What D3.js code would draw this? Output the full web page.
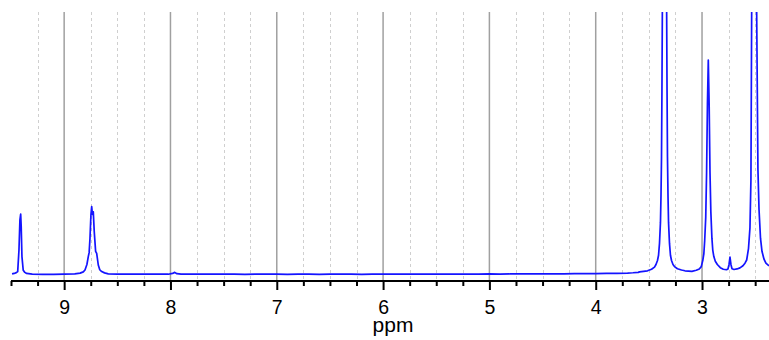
<!DOCTYPE html>
<html>
<head>
<meta charset="utf-8">
<script src="https://cdn.jsdelivr.net/npm/d3@7/dist/d3.min.js"></script>
<style>
  html, body { margin: 0; padding: 0; background: #fff; }
  svg { display: block; }
  text { font-family: "Liberation Sans", Arial, Helvetica, sans-serif; fill: #000; }
</style>
</head>
<body>
<div id="chart"></div>
<script>
// 1H NMR spectrum: chemical shift (ppm) and relative intensity
const shift = [
  9.490, 9.470, 9.450, 9.437, 9.425, 9.416, 9.409, 9.404, 9.397, 9.385, 9.370, 9.353,
  9.300, 9.200, 9.100, 9.000, 8.900, 8.850, 8.820, 8.804, 8.786, 8.773, 8.765, 8.757,
  8.748, 8.741, 8.734, 8.726, 8.717, 8.704, 8.694, 8.679, 8.665, 8.647, 8.620, 8.585,
  8.500, 8.400, 8.300, 8.200, 8.100, 8.020, 7.980, 7.960, 7.940, 7.900, 7.800, 7.700,
  7.600, 7.500, 7.400, 7.300, 7.200, 7.100, 7.000, 6.900, 6.800, 6.700, 6.600, 6.500,
  6.400, 6.300, 6.200, 6.100, 6.000, 5.900, 5.800, 5.700, 5.600, 5.500, 5.400, 5.300,
  5.200, 5.100, 5.000, 4.900, 4.800, 4.700, 4.600, 4.500, 4.400, 4.300, 4.200, 4.100,
  4.000, 3.900, 3.800, 3.700, 3.650, 3.600, 3.588, 3.513, 3.475, 3.447, 3.433, 3.419,
  3.409, 3.400, 3.391, 3.386, 3.381, 3.377, 3.372, 3.362, 3.353, 3.344, 3.334, 3.329,
  3.325, 3.320, 3.315, 3.306, 3.297, 3.287, 3.273, 3.259, 3.231, 3.193, 3.161, 3.095,
  3.054, 3.026, 3.007, 2.993, 2.983, 2.975, 2.965, 2.957, 2.949, 2.941, 2.933, 2.925,
  2.917, 2.907, 2.899, 2.889, 2.875, 2.856, 2.828, 2.800, 2.770, 2.756, 2.746, 2.737,
  2.728, 2.718, 2.699, 2.671, 2.643, 2.615, 2.596, 2.580, 2.563, 2.549, 2.540, 2.533,
  2.526, 2.510, 2.493, 2.486, 2.474, 2.464, 2.450, 2.436, 2.417, 2.399, 2.370
];
const intensity = [
  0.4, 0.6, 0.9, 1.3, 9.5, 21, 23.2, 18.4, 7, 1.8, 1.0, 0.6,
  0.35, 0.25, 0.25, 0.3, 0.4, 0.7, 1.2, 1.9, 4, 7, 8.5, 14,
  23, 26, 23, 24, 16.5, 9, 8.2, 3.8, 2.0, 1.3, 0.8, 0.45,
  0.3, 0.35, 0.3, 0.35, 0.3, 0.3, 0.6, 1.0, 0.5, 0.3, 0.35, 0.3,
  0.3, 0.35, 0.3, 0.25, 0.3, 0.3, 0.3, 0.25, 0.3, 0.3, 0.25, 0.3,
  0.3, 0.3, 0.25, 0.3, 0.3, 0.3, 0.3, 0.35, 0.3, 0.3, 0.35, 0.3,
  0.35, 0.35, 0.4, 0.35, 0.4, 0.4, 0.4, 0.45, 0.45, 0.45, 0.5, 0.5,
  0.55, 0.6, 0.65, 0.75, 0.85, 1.0, 1.2, 1.6, 2.2, 3, 4, 5.5,
  7.5, 12, 20, 30, 45, 70, 110, 250, 400, 250, 110, 70,
  45, 30, 20, 12, 7.5, 5.5, 4, 3.2, 2.4, 1.9, 1.6, 1.4,
  1.8, 2.3, 3.2, 5.5, 8, 13, 22, 39, 65, 81.7, 65, 39,
  24, 14, 9.5, 7, 5.2, 4, 2.8, 2.2, 2.0, 2.3, 4, 6.8,
  4, 2.4, 2.1, 2.3, 2.7, 3.5, 4.5, 5.7, 10, 18, 36, 100,
  200, 500, 200, 100, 40, 25, 14, 9, 6, 4.5, 3.5
];

const majorTicks = [9, 8, 7, 6, 5, 4, 3];
const minorTicks = [9.5, 9.25, 8.75, 8.5, 8.25, 7.75, 7.5, 7.25, 6.75, 6.5, 6.25,
  5.75, 5.5, 5.25, 4.75, 4.5, 4.25, 3.75, 3.5, 3.25, 2.75, 2.5];
const axisTitle = "ppm";

const W = 769, H = 340;
const plot = { left: 11, right: 769, top: 12, axisY: 281 };

const svg = d3.select("#chart").append("svg")
  .attr("width", W).attr("height", H);

// chemical shift runs right-to-left
const x = d3.scaleLinear().domain([9.5, 2.37]).range([plot.left, plot.right]);
const y = d3.scaleLinear().domain([0, 100]).range([275, plot.top]);

// grid: dashed quarter-ppm lines, solid integer-ppm lines
svg.append("g").selectAll("line")
  .data(minorTicks.filter(d => d < 9.5))
  .join("line")
  .attr("x1", d => Math.round(x(d)) + 0.5).attr("x2", d => Math.round(x(d)) + 0.5)
  .attr("y1", plot.top).attr("y2", plot.axisY)
  .attr("stroke", "#cfcfcf").attr("stroke-width", 1)
  .attr("stroke-dasharray", "3,3");

svg.append("g").selectAll("line")
  .data(majorTicks)
  .join("line")
  .attr("x1", d => x(d)).attr("x2", d => x(d))
  .attr("y1", plot.top).attr("y2", plot.axisY)
  .attr("stroke", "#a0a0a0").attr("stroke-width", 1.5);

// spectrum trace, clipped to the plotting window
svg.append("clipPath").attr("id", "plot-clip")
  .append("rect")
  .attr("x", plot.left).attr("y", plot.top)
  .attr("width", plot.right - plot.left).attr("height", plot.axisY - plot.top);

const points = shift.map((s, i) => [s, intensity[i]]);
const line = d3.line().x(d => x(d[0])).y(d => y(d[1]));

svg.append("path")
  .datum(points)
  .attr("clip-path", "url(#plot-clip)")
  .attr("d", line)
  .attr("fill", "none")
  .attr("stroke", "#1414ff")
  .attr("stroke-width", 1.7)
  .attr("stroke-linejoin", "round");

// bottom axis
const axisMajor = d3.axisBottom(x).tickValues(majorTicks)
  .tickSize(9).tickPadding(10).tickFormat(d3.format("d"));
const axisMinor = d3.axisBottom(x).tickValues(minorTicks)
  .tickSize(5).tickFormat("");

const gMinor = svg.append("g").attr("transform", `translate(0,${plot.axisY})`).call(axisMinor);
const gMajor = svg.append("g").attr("transform", `translate(0,${plot.axisY})`).call(axisMajor);

[gMinor, gMajor].forEach(g => {
  g.select(".domain").attr("stroke", "#000").attr("stroke-width", 2)
    .attr("d", `M${plot.left},0H${plot.right}`);
  g.selectAll(".tick line").attr("stroke", "#000").attr("stroke-width", 2);
});
gMajor.selectAll(".tick text")
  .attr("font-size", 19.5)
  .attr("font-family", "'Liberation Sans', Arial, sans-serif")
  .attr("fill", "#000");

svg.append("text")
  .attr("x", 393).attr("y", 332)
  .attr("text-anchor", "middle")
  .attr("font-size", 21)
  .text(axisTitle);
</script>
</body>
</html>
